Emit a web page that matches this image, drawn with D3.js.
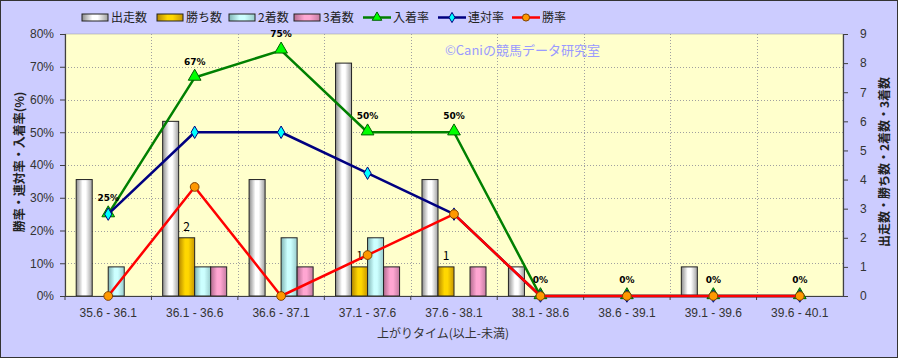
<!DOCTYPE html>
<html>
<head>
<meta charset="utf-8">
<script src="https://cdn.jsdelivr.net/npm/d3@7"></script>
<style>
  body { margin: 0; background: #fff; }
  svg { display: block; font-family: "Noto Sans CJK JP", "DejaVu Sans", sans-serif; }
</style>
</head>
<body>
<div id="chart"></div>
<script>
// categories (上がりタイム)
const categories = ["35.6 - 36.1", "36.1 - 36.6", "36.6 - 37.1", "37.1 - 37.6", "37.6 - 38.1",
                    "38.1 - 38.6", "38.6 - 39.1", "39.1 - 39.6", "39.6 - 40.1"];
// counts
const runs   = [4, 6, 4, 8, 4, 1, 0, 1, 0];
const wins   = [0, 2, 0, 1, 1, 0, 0, 0, 0];
const second = [1, 1, 2, 2, 0, 0, 0, 0, 0];
const third  = [0, 1, 1, 1, 1, 0, 0, 0, 0];
// rates (%)
const placeRate = [25, 66.7, 75, 50, 50, 0, 0, 0, 0];
const rentaiRate = [25, 50, 50, 37.5, 25, 0, 0, 0, 0];
const winRate = [0, 33.3, 0, 12.5, 25, 0, 0, 0, 0];
// labels shown on 入着率
const placeLabels = ["25%", "67%", "75%", "50%", "50%", "0%", "0%", "0%", "0%"];
const leftTicks = [0, 10, 20, 30, 40, 50, 60, 70, 80];
const rightTicks = [0, 1, 2, 3, 4, 5, 6, 7, 8, 9];

const width = 898, height = 358;
const plot = {left: 65, right: 843, top: 34, bottom: 296};

const svg = d3.select("#chart").append("svg")
    .attr("width", width)
    .attr("height", height);

// background
svg.append("rect").attr("x", 0.5).attr("y", 0.5).attr("width", width - 1).attr("height", height - 1)
    .attr("fill", "#ccccff").attr("stroke", "#333").attr("stroke-width", 1);
svg.append("rect").attr("x", plot.left).attr("y", plot.top)
    .attr("width", plot.right - plot.left).attr("height", plot.bottom - plot.top)
    .attr("fill", "#ffffcc").attr("stroke", "#999").attr("stroke-width", 0.5);

// scales
const x0 = d3.scaleBand().domain(categories).range([plot.left, plot.right]).padding(0);
const barSeries = ["runs", "wins", "second", "third"];
const x1 = d3.scaleBand().domain(barSeries).range([0, x0.bandwidth()]).paddingInner(0).paddingOuter(0.7);
const yL = d3.scaleLinear().domain([0, 80]).range([plot.bottom, plot.top]);
const yR = d3.scaleLinear().domain([0, 9]).range([plot.bottom, plot.top]);
const cx = c => x0(c) + x0.bandwidth() / 2;

// gradients for bars
const defs = svg.append("defs");
const barColors = {
    runs:   ["#8c8c8c", "#ffffff", "#a0a0a0"],
    wins:   ["#b38600", "#ffd700", "#c89600"],
    second: ["#7fb3b3", "#ccffff", "#99cccc"],
    third:  ["#b36b8f", "#ffa6d2", "#c47aa0"]
};
Object.entries(barColors).forEach(([k, c]) => {
    const g = defs.append("linearGradient").attr("id", "g-" + k)
        .attr("x1", "0%").attr("x2", "100%").attr("y1", "0%").attr("y2", "0%");
    g.append("stop").attr("offset", "0%").attr("stop-color", c[0]);
    g.append("stop").attr("offset", "40%").attr("stop-color", c[1]);
    g.append("stop").attr("offset", "60%").attr("stop-color", c[1]);
    g.append("stop").attr("offset", "100%").attr("stop-color", c[2]);
});

// grid
const grid = svg.append("g").attr("stroke", "#a0a0a0").attr("stroke-dasharray", "1,2").attr("stroke-width", 1);
leftTicks.slice(1, -1).forEach(t => {
    grid.append("line").attr("x1", plot.left).attr("x2", plot.right)
        .attr("y1", Math.round(yL(t)) + 0.5).attr("y2", Math.round(yL(t)) + 0.5);
});
categories.slice(1).forEach(c => {
    grid.append("line").attr("x1", Math.round(x0(c)) + 0.5).attr("x2", Math.round(x0(c)) + 0.5)
        .attr("y1", plot.top).attr("y2", plot.bottom);
});

// bars
const barData = {runs, wins, second, third};
const bars = svg.append("g");
categories.forEach((c, i) => {
    barSeries.forEach(s => {
        const v = barData[s][i];
        if (v <= 0) return;
        bars.append("rect")
            .attr("x", x0(c) + x1(s))
            .attr("y", yR(v))
            .attr("width", x1.bandwidth())
            .attr("height", yR(0) - yR(v))
            .attr("fill", `url(#g-${s})`)
            .attr("stroke", "#222")
            .attr("stroke-width", 1);
    });
});

// 勝ち数 labels
categories.forEach((c, i) => {
    if (wins[i] <= 0) return;
    svg.append("text")
        .attr("x", x0(c) + x1("wins") + x1.bandwidth() / 2)
        .attr("y", yR(wins[i]) - 7)
        .attr("text-anchor", "middle")
        .style("font-size", "12px")
        .attr("fill", "#000")
        .text(wins[i]);
});

// axes
const axisColor = "#404040";
const leftAxis = svg.append("g").attr("transform", `translate(${plot.left},0)`)
    .call(d3.axisLeft(yL).tickValues(leftTicks).tickFormat(d => d + "%").tickSize(5).tickPadding(6));
const rightAxis = svg.append("g").attr("transform", `translate(${plot.right},0)`)
    .call(d3.axisRight(yR).tickValues(rightTicks).tickSize(5).tickPadding(12));
const bottomAxis = svg.append("g").attr("transform", `translate(0,${plot.bottom})`)
    .call(d3.axisBottom(x0).tickSize(0).tickPadding(12));
[leftAxis, rightAxis, bottomAxis].forEach(a => {
    a.select(".domain").attr("stroke", axisColor).attr("stroke-width", 1.2);
    a.selectAll(".tick line").attr("stroke", axisColor);
    a.selectAll("text").attr("fill", "#333").style("font-size", "12px")
        .style("font-family", "'Liberation Sans', Arial, sans-serif");
});
// x ticks at category boundaries
categories.forEach(c => {
    svg.append("line").attr("x1", x0(c)).attr("x2", x0(c))
        .attr("y1", plot.bottom).attr("y2", plot.bottom + 4).attr("stroke", axisColor);
});

// lines
const lineGen = d3.line().x(d => cx(d.c)).y(d => yL(d.v));
function drawSeries(values, color, marker, fill, markerStroke) {
    const pts = categories.map((c, i) => ({c, v: values[i]}));
    svg.append("path").datum(pts).attr("d", lineGen)
        .attr("fill", "none").attr("stroke", color).attr("stroke-width", 2.5)
        .attr("stroke-linejoin", "round");
    const sym = d3.symbol().type(marker).size(marker === d3.symbolTriangle ? 70 : (marker === d3.symbolDiamond ? 45 : 60));
    svg.append("g").selectAll("path").data(pts).join("path")
        .attr("d", sym)
        .attr("transform", d => `translate(${cx(d.c)},${yL(d.v) - (marker === d3.symbolTriangle ? 1 : 0)})`)
        .attr("fill", fill).attr("stroke", markerStroke).attr("stroke-width", 1);
}
drawSeries(placeRate, "#008000", d3.symbolTriangle, "#00ff00", "#006000");
drawSeries(rentaiRate, "#000080", d3.symbolDiamond, "#00ffff", "#000080");
drawSeries(winRate, "#ff0000", d3.symbolCircle, "#ff9900", "#804000");

// 入着率 labels
categories.forEach((c, i) => {
    svg.append("text")
        .attr("x", cx(c))
        .attr("y", yL(placeRate[i]) - 13)
        .attr("text-anchor", "middle")
        .style("font-size", "9px")
        .style("font-weight", "bold")
        .style("font-family", "'DejaVu Sans', sans-serif")
        .attr("fill", "#000")
        .text(placeLabels[i]);
});

// watermark
svg.append("text").attr("x", 445).attr("y", 55)
    .style("font-size", "13px").attr("fill", "#9a9aff")
    .text("©Caniの競馬データ研究室");

// axis titles
svg.append("text")
    .attr("transform", "translate(24,162) rotate(-90)")
    .attr("text-anchor", "middle").style("font-size", "12px").style("font-weight", "bold")
    .attr("fill", "#222").text("勝率・連対率・入着率(%)");
svg.append("text")
    .attr("transform", "translate(889,162) rotate(-90)")
    .attr("text-anchor", "middle").style("font-size", "12px").style("font-weight", "bold")
    .attr("fill", "#222").text("出走数・勝ち数・2着数・3着数");
svg.append("text")
    .attr("x", 443).attr("y", 338)
    .attr("text-anchor", "middle").style("font-size", "12px")
    .attr("fill", "#333").text("上がりタイム(以上-未満)");

// legend
const legend = svg.append("g").style("font-size", "12px");
const legendBars = [
    {key: "runs", label: "出走数", x: 82},
    {key: "wins", label: "勝ち数", x: 157},
    {key: "second", label: "2着数", x: 229},
    {key: "third", label: "3着数", x: 294}
];
legendBars.forEach(d => {
    legend.append("rect").attr("x", d.x).attr("y", 14).attr("width", 26).attr("height", 7)
        .attr("fill", `url(#g-${d.key})`).attr("stroke", "#222").attr("stroke-width", 1);
    legend.append("text").attr("x", d.x + 29).attr("y", 22).attr("fill", "#222").text(d.label);
});
const legendLines = [
    {label: "入着率", x: 363, color: "#008000", marker: d3.symbolTriangle, fill: "#00ff00", stroke: "#006000"},
    {label: "連対率", x: 438, color: "#000080", marker: d3.symbolDiamond, fill: "#00ffff", stroke: "#000080"},
    {label: "勝率", x: 512, color: "#ff0000", marker: d3.symbolCircle, fill: "#ff9900", stroke: "#804000"}
];
legendLines.forEach(d => {
    legend.append("line").attr("x1", d.x).attr("x2", d.x + 28).attr("y1", 17.5).attr("y2", 17.5)
        .attr("stroke", d.color).attr("stroke-width", 2.5);
    legend.append("path").attr("d", d3.symbol().type(d.marker).size(d.marker === d3.symbolDiamond ? 30 : 40))
        .attr("transform", `translate(${d.x + 14},17.5)`)
        .attr("fill", d.fill).attr("stroke", d.stroke).attr("stroke-width", 1);
    legend.append("text").attr("x", d.x + 30).attr("y", 22).attr("fill", "#222").text(d.label);
});
</script>
</body>
</html>
